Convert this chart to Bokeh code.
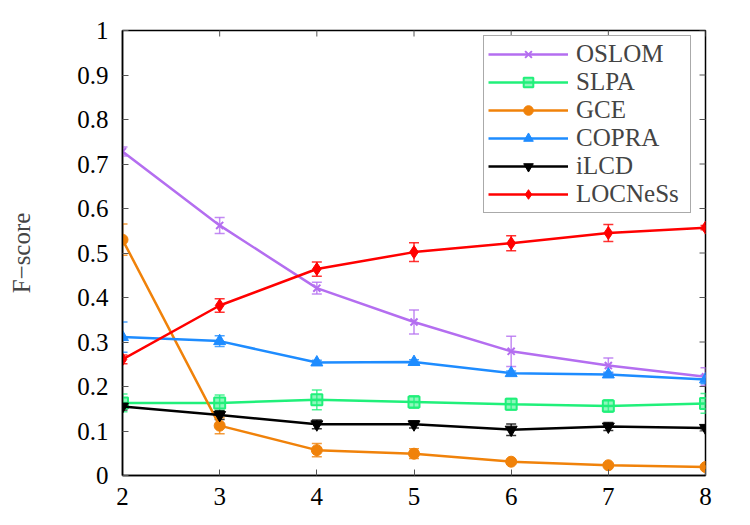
import math
from bokeh.plotting import figure
from bokeh.models import (ColumnDataSource, Whisker, Legend, LegendItem,
                          FixedTicker, Range1d, TeeHead)
from bokeh.embed import file_html
from bokeh.resources import INLINE

# ---- data ----
ks = [2, 3, 4, 5, 6, 7, 8]
series_names = ["OSLOM", "SLPA", "GCE", "COPRA", "iLCD", "LOCNeSs"]
oslom = [0.728, 0.562, 0.421, 0.345, 0.279, 0.247, 0.222]
oslom_err = [0.010, 0.018, 0.013, 0.027, 0.034, 0.017, 0.020]
slpa = [0.163, 0.163, 0.170, 0.165, 0.160, 0.156, 0.162]
slpa_err = [0.020, 0.018, 0.022, 0.014, 0.013, 0.014, 0.022]
gce = [0.530, 0.112, 0.057, 0.049, 0.031, 0.023, 0.019]
gce_err = [0.035, 0.018, 0.015, 0.011, 0.005, 0.004, 0.003]
copra = [0.311, 0.302, 0.254, 0.255, 0.230, 0.227, 0.216]
copra_err = [0.034, 0.012, 0.005, 0.005, 0.005, 0.005, 0.010]
ilcd = [0.155, 0.136, 0.115, 0.115, 0.103, 0.110, 0.107]
ilcd_err = [0.008, 0.010, 0.010, 0.008, 0.013, 0.009, 0.005]
locness = [0.261, 0.382, 0.464, 0.502, 0.522, 0.545, 0.557]
locness_err = [0.010, 0.015, 0.016, 0.021, 0.017, 0.019, 0.005]
y_ticks = [0, 0.1, 0.2, 0.3, 0.4, 0.5, 0.6, 0.7, 0.8, 0.9, 1]
y_tick_labels = ["0", "0.1", "0.2", "0.3", "0.4", "0.5", "0.6", "0.7", "0.8", "0.9", "1"]

values = [oslom, slpa, gce, copra, ilcd, locness]
errors = [oslom_err, slpa_err, gce_err, copra_err, ilcd_err, locness_err]
colors = ["#b46ef0", "#20f07a", "#f0820a", "#1e8cff", "#000000", "#ff0000"]
markers = ["x", "square", "circle", "triangle", "inverted_triangle", "diamond"]
msizes = [10, 11, 11, 12, 12, 13]

FONT = "Liberation Serif"
FS = "25px"

x_lo, x_hi = ks[0], ks[-1]
y_lo, y_hi = y_ticks[0], y_ticks[-1]

p = figure(width=750, height=525, x_range=Range1d(x_lo, x_hi), y_range=Range1d(y_lo, y_hi),
           output_backend="svg", toolbar_location=None,
           min_border_left=122, min_border_right=45, min_border_top=30, min_border_bottom=50)
p.xgrid.visible = False
p.ygrid.visible = False
p.outline_line_color = "black"
p.outline_line_width = 1.5
p.background_fill_color = "white"
p.border_fill_color = "white"

def style_axis(ax):
    ax.axis_line_color = "black"
    ax.axis_line_width = 1.5
    ax.major_tick_in = 6
    ax.major_tick_out = 0
    ax.minor_tick_in = 0
    ax.minor_tick_out = 0
    ax.major_tick_line_color = "#555555"
    ax.major_label_text_font = FONT
    ax.major_label_text_color = "black"
    ax.major_label_text_font_size = FS

xax = p.xaxis[0]
xax.ticker = FixedTicker(ticks=ks)
style_axis(xax)
xax.major_label_standoff = 12

yax = p.yaxis[0]
yax.ticker = FixedTicker(ticks=y_ticks)
yax.major_label_overrides = {t: l for t, l in zip(y_ticks, y_tick_labels)}
style_axis(yax)
yax.major_label_standoff = 14
yax.axis_label = "F\u2212score"
yax.axis_label_text_font = FONT
yax.axis_label_text_font_size = FS
yax.axis_label_text_font_style = "normal"
yax.axis_label_standoff = 39

# mirrored inward tick marks on the top and right borders (clipped dashes)
p.scatter(x=ks, y=[y_hi] * len(ks), marker="dash", size=12, angle=math.pi / 2,
          line_color="#555555", line_width=1)
p.scatter(x=[x_hi] * len(y_ticks), y=y_ticks, marker="dash", size=12,
          line_color="#555555", line_width=1)

items = []
for name, vals, errs, col, mk, ms in zip(series_names, values, errors, colors, markers, msizes):
    src = ColumnDataSource(dict(x=ks, y=vals,
                                upper=[v + e for v, e in zip(vals, errs)],
                                lower=[v - e for v, e in zip(vals, errs)]))
    w = Whisker(source=src, base="x", upper="upper", lower="lower", dimension="height",
                line_color=col, line_width=1.5, line_alpha=0.8)
    w.upper_head = TeeHead(size=10, line_color=col, line_width=1.5, line_alpha=0.8)
    w.lower_head = TeeHead(size=10, line_color=col, line_width=1.5, line_alpha=0.8)
    p.add_layout(w)
    ln = p.line("x", "y", source=src, line_color=col, line_width=2.5)
    if mk == "square":
        sc = p.scatter("x", "y", source=src, marker=mk, size=ms, line_color=col,
                       fill_color=col, fill_alpha=0.5, line_width=2)
    elif mk == "x":
        sc = p.scatter("x", "y", source=src, marker=mk, size=ms, line_color=col, line_width=2)
    else:
        sc = p.scatter("x", "y", source=src, marker=mk, size=ms, line_color=col,
                       fill_color=col)
    items.append(LegendItem(label=name, renderers=[ln, sc]))

legend = Legend(items=items, location=(361, 262))
legend.label_text_font = FONT
legend.label_text_font_size = FS
legend.label_text_line_height = 1.0
legend.glyph_width = 80
legend.glyph_height = 24
legend.label_height = 24
legend.label_width = 110
legend.label_standoff = 8
legend.spacing = 0
legend.padding = 4
legend.margin = 0
legend.border_line_color = "#555555"
legend.border_line_width = 1
legend.background_fill_alpha = 1
p.add_layout(legend)

open("out.html", "w").write(file_html(p, INLINE))
